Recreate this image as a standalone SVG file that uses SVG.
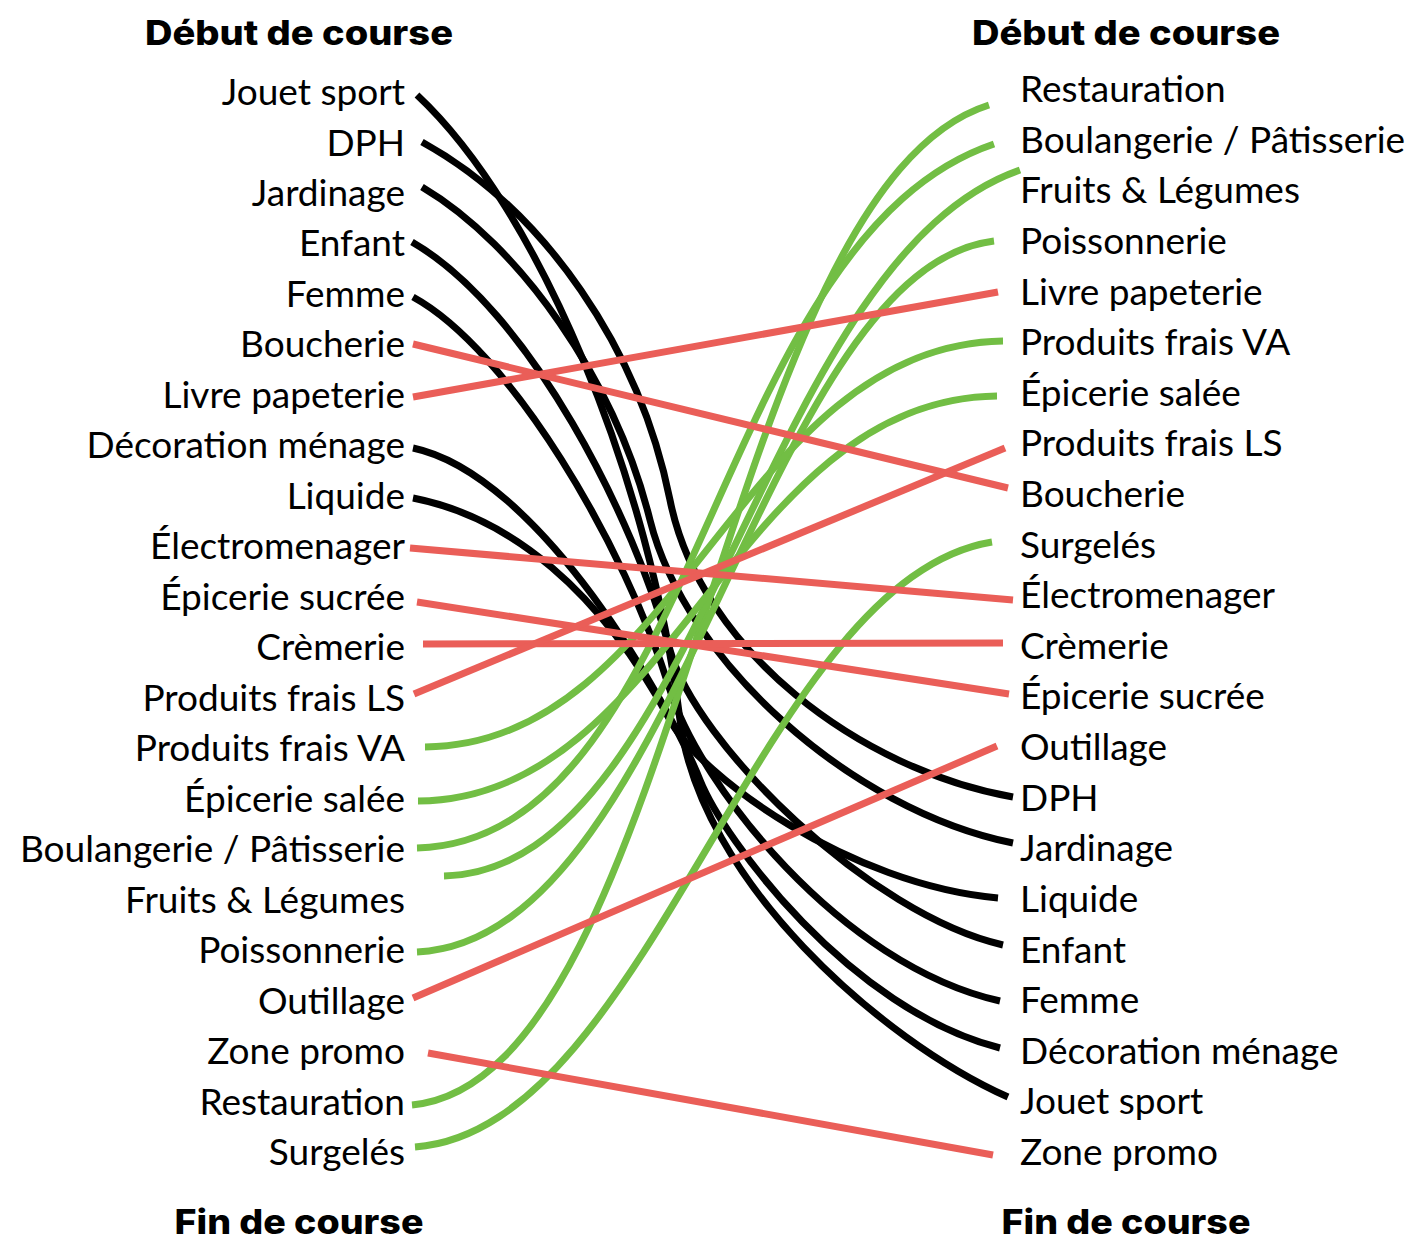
<svg xmlns="http://www.w3.org/2000/svg" width="1421" height="1250" viewBox="0 0 1421 1250">
  <style>
    .lbl { font-family: Lato, "Open Sans", "Liberation Sans", sans-serif; font-size: 37px; fill: #000; }
    .l { text-anchor: end; }
    .r { text-anchor: start; }
    .head { font-family: Inter, Lato, "Liberation Sans", sans-serif; font-size: 34px; font-weight: 800; fill: #000; text-anchor: middle; }
    .c { fill: none; stroke-width: 7; stroke-linecap: butt; }
    .k { stroke: #000; }
    .g { stroke: #72BE44; }
    .rd { stroke: #EA5E58; }
  </style>
  <rect width="1421" height="1250" fill="#fff"/>

  <g id="headings">
    <text class="head" x="299" y="45" textLength="308" lengthAdjust="spacingAndGlyphs">Début de course</text>
    <text class="head" x="1126" y="45" textLength="308" lengthAdjust="spacingAndGlyphs">Début de course</text>
    <text class="head" x="299" y="1234" textLength="249" lengthAdjust="spacingAndGlyphs">Fin de course</text>
    <text class="head" x="1126" y="1234" textLength="249" lengthAdjust="spacingAndGlyphs">Fin de course</text>
  </g>

  <g id="connectors">
    <!-- black: non-food departments -->
    <path class="c k" d="M417,95 C540,210 650,480 680,720 C700,880 880,1040 1008,1097"/>
    <path class="c k" d="M422,142 C545,210 640,350 670,500 C700,650 860,770 1013,797"/>
    <path class="c k" d="M422,187 C520,245 615,380 650,520 C685,660 850,810 1013,843"/>
    <path class="c k" d="M412,242 C530,310 635,520 670,650 C695,743 870,915 1003,945"/>
    <path class="c k" d="M413,297 C510,350 625,545 670,690 C700,785 840,965 1000,1001"/>
    <path class="c k" d="M413,448 C540,475 670,705 700,780 C724,840 850,1010 1000,1048"/>
    <path class="c k" d="M413,498 C510,517 600,590 670,720 C700,776 850,885 998,898"/>
    <!-- green: fresh food departments -->
    <path class="c g" d="M412,1105 C680,1080 720,190 989,105"/>
    <path class="c g" d="M417,848 C700,840 710,240 994,144"/>
    <path class="c g" d="M444,876 C700,870 760,260 1020,170"/>
    <path class="c g" d="M417,952 C680,940 760,270 994,241"/>
    <path class="c g" d="M425,747 C680,745 740,345 1003,341"/>
    <path class="c g" d="M418,801 C673,799 733,399 997,396"/>
    <path class="c g" d="M415,1147 C650,1130 760,580 992,542"/>
    <!-- red: straight links -->
    <path class="c rd" d="M413,344 L1008,488"/>
    <path class="c rd" d="M413,397 L998,292"/>
    <path class="c rd" d="M410,548 L1013,600"/>
    <path class="c rd" d="M417,602 L1009,694"/>
    <path class="c rd" d="M423,644 L1003,643"/>
    <path class="c rd" d="M414,694 L1005,448"/>
    <path class="c rd" d="M413,998 L997,746"/>
    <path class="c rd" d="M428,1053 L993,1155"/>
  </g>

  <g id="left-column">
    <g id="l-jouet-sport"><text class="lbl l" x="405" y="105">Jouet sport</text></g>
    <g id="l-dph"><text class="lbl l" x="405" y="155.5">DPH</text></g>
    <g id="l-jardinage"><text class="lbl l" x="405" y="206">Jardinage</text></g>
    <g id="l-enfant"><text class="lbl l" x="405" y="256.4">Enfant</text></g>
    <g id="l-femme"><text class="lbl l" x="405" y="306.9">Femme</text></g>
    <g id="l-boucherie"><text class="lbl l" x="405" y="357.4">Boucherie</text></g>
    <g id="l-livre"><text class="lbl l" x="405" y="407.9">Livre papeterie</text></g>
    <g id="l-decoration"><text class="lbl l" x="405" y="458.4">Décoration ménage</text></g>
    <g id="l-liquide"><text class="lbl l" x="405" y="508.8">Liquide</text></g>
    <g id="l-electro"><text class="lbl l" x="405" y="559.3">Électromenager</text></g>
    <g id="l-epicerie-sucree"><text class="lbl l" x="405" y="609.8">Épicerie sucrée</text></g>
    <g id="l-cremerie"><text class="lbl l" x="405" y="660.3">Crèmerie</text></g>
    <g id="l-pf-ls"><text class="lbl l" x="405" y="710.8">Produits frais LS</text></g>
    <g id="l-pf-va"><text class="lbl l" x="405" y="761.2">Produits frais VA</text></g>
    <g id="l-epicerie-salee"><text class="lbl l" x="405" y="811.7">Épicerie salée</text></g>
    <g id="l-boulangerie"><text class="lbl l" x="405" y="862.2">Boulangerie / Pâtisserie</text></g>
    <g id="l-fruits"><text class="lbl l" x="405" y="912.7">Fruits &amp; Légumes</text></g>
    <g id="l-poissonnerie"><text class="lbl l" x="405" y="963.1">Poissonnerie</text></g>
    <g id="l-outillage"><text class="lbl l" x="405" y="1013.6">Outillage</text></g>
    <g id="l-zone-promo"><text class="lbl l" x="405" y="1064.1">Zone promo</text></g>
    <g id="l-restauration"><text class="lbl l" x="405" y="1114.6">Restauration</text></g>
    <g id="l-surgeles"><text class="lbl l" x="405" y="1165">Surgelés</text></g>
  </g>

  <g id="right-column">
    <g id="r-restauration"><text class="lbl r" x="1020" y="102">Restauration</text></g>
    <g id="r-boulangerie"><text class="lbl r" x="1020" y="152.6">Boulangerie / Pâtisserie</text></g>
    <g id="r-fruits"><text class="lbl r" x="1020" y="203.2">Fruits &amp; Légumes</text></g>
    <g id="r-poissonnerie"><text class="lbl r" x="1020" y="253.9">Poissonnerie</text></g>
    <g id="r-livre"><text class="lbl r" x="1020" y="304.5">Livre papeterie</text></g>
    <g id="r-pf-va"><text class="lbl r" x="1020" y="355.1">Produits frais VA</text></g>
    <g id="r-epicerie-salee"><text class="lbl r" x="1020" y="405.7">Épicerie salée</text></g>
    <g id="r-pf-ls"><text class="lbl r" x="1020" y="456.3">Produits frais LS</text></g>
    <g id="r-boucherie"><text class="lbl r" x="1020" y="507">Boucherie</text></g>
    <g id="r-surgeles"><text class="lbl r" x="1020" y="557.6">Surgelés</text></g>
    <g id="r-electro"><text class="lbl r" x="1020" y="608.2">Électromenager</text></g>
    <g id="r-cremerie"><text class="lbl r" x="1020" y="658.8">Crèmerie</text></g>
    <g id="r-epicerie-sucree"><text class="lbl r" x="1020" y="709.4">Épicerie sucrée</text></g>
    <g id="r-outillage"><text class="lbl r" x="1020" y="760.1">Outillage</text></g>
    <g id="r-dph"><text class="lbl r" x="1020" y="810.7">DPH</text></g>
    <g id="r-jardinage"><text class="lbl r" x="1020" y="861.3">Jardinage</text></g>
    <g id="r-liquide"><text class="lbl r" x="1020" y="911.9">Liquide</text></g>
    <g id="r-enfant"><text class="lbl r" x="1020" y="962.5">Enfant</text></g>
    <g id="r-femme"><text class="lbl r" x="1020" y="1013.2">Femme</text></g>
    <g id="r-decoration"><text class="lbl r" x="1020" y="1063.8">Décoration ménage</text></g>
    <g id="r-jouet-sport"><text class="lbl r" x="1020" y="1114.4">Jouet sport</text></g>
    <g id="r-zone-promo"><text class="lbl r" x="1020" y="1165">Zone promo</text></g>
  </g>
</svg>
